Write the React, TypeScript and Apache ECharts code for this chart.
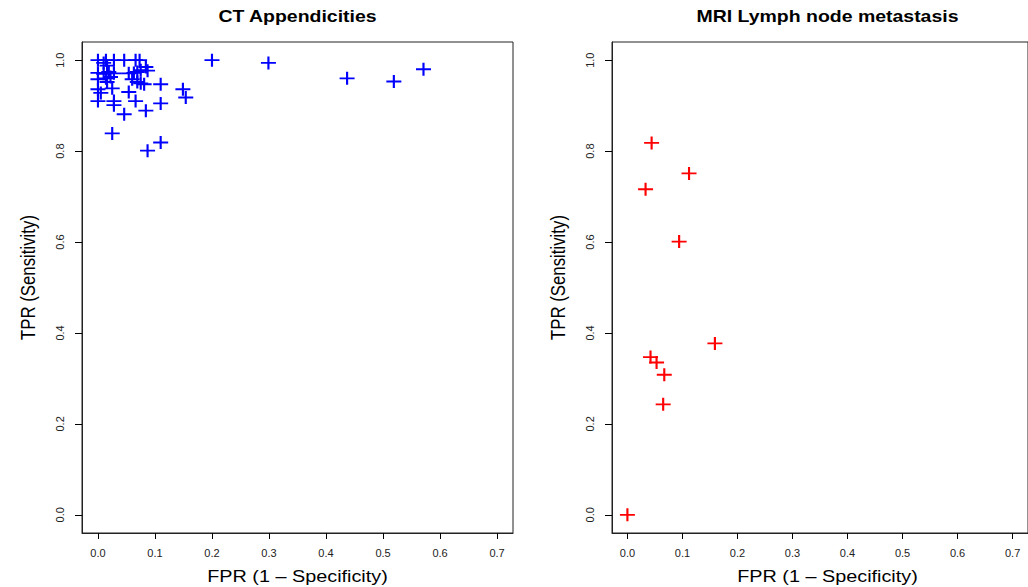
import React, { useEffect, useRef } from "react";
import * as echarts from "echarts";

const ctTitle = "CT Appendicities";
const mriTitle = "MRI Lymph node metastasis";
const xTitle = "FPR (1 \u2013 Specificity)";
const yTitle = "TPR (Sensitivity)";

const ctFpr = [0.0, 0.014, 0.028, 0.046, 0.066, 0.073, 0.2, 0.299, 0.437, 0.519, 0.571, 0.01, 0.016, 0.084, 0.087, 0.0, 0.01, 0.019, 0.028, 0.054, 0.063, 0.069, 0.075, 0.0, 0.014, 0.022, 0.016, 0.06, 0.069, 0.081, 0.11, 0.0, 0.005, 0.025, 0.054, 0.0, 0.028, 0.028, 0.066, 0.11, 0.084, 0.046, 0.025, 0.11, 0.087, 0.149, 0.154, 0.075];
const ctTpr = [1.0, 1.0, 1.0, 1.0, 1.0, 1.0, 1.0, 0.994, 0.96, 0.953, 0.98, 0.994, 0.988, 0.985, 0.977, 0.972, 0.97, 0.974, 0.971, 0.971, 0.972, 0.974, 0.978, 0.958, 0.96, 0.963, 0.952, 0.958, 0.952, 0.947, 0.947, 0.936, 0.928, 0.938, 0.93, 0.91, 0.91, 0.901, 0.91, 0.905, 0.889, 0.881, 0.839, 0.819, 0.801, 0.936, 0.918, 0.949];

const mriFpr = [0.044, 0.112, 0.033, 0.094, 0.159, 0.042, 0.053, 0.067, 0.065, 0.0];
const mriTpr = [0.818, 0.751, 0.716, 0.601, 0.377, 0.347, 0.335, 0.308, 0.243, 0.0];

const xTicks = [0, 0.1, 0.2, 0.3, 0.4, 0.5, 0.6, 0.7];
const yTicks = [0, 0.2, 0.4, 0.6, 0.8, 1.0];

const FONT = "'Liberation Sans', Arial, Helvetica, sans-serif";
const INK = "#222";
const PLUS = "path://M6,0h2v6h6v2h-6v6h-2v-6h-6v-2h6z";

const panels = [
  { left: 82, title: ctTitle, fpr: ctFpr, tpr: ctTpr, color: "#0000ff" },
  { left: 612, title: mriTitle, fpr: mriFpr, tpr: mriTpr, color: "#ff0000" },
];
const GRID_TOP = 42;
const GRID_W = 431;
const GRID_H = 491;

export default function App() {
  const ref = useRef<HTMLDivElement>(null);
  useEffect(() => {
    if (!ref.current) return;
    const chart = echarts.init(ref.current, null, { renderer: "svg" });
    const fmt = (v: number) => v.toFixed(1);
    const graphics: any[] = [];
    panels.forEach((p) => {
      const cx = p.left + GRID_W / 2;
      graphics.push({
        type: "text",
        x: cx,
        y: 17,
        scaleX: 1.18,
        silent: true,
        style: {
          text: p.title,
          x: 0,
          y: 0,
          align: "center",
          verticalAlign: "middle",
          fontFamily: FONT,
          fontWeight: "bold",
          fontSize: 16.5,
          fill: "#000",
        },
      });
      graphics.push({
        type: "text",
        x: cx,
        y: 576,
        scaleX: 1.18,
        silent: true,
        style: {
          text: xTitle,
          x: 0,
          y: 0,
          align: "center",
          verticalAlign: "middle",
          fontFamily: FONT,
          fontSize: 16.8,
          fill: "#000",
        },
      });
      graphics.push({
        type: "text",
        x: p.left - 54.5,
        y: 277.5,
        rotation: Math.PI / 2,
        scaleY: 1.18,
        silent: true,
        style: {
          text: yTitle,
          x: 0,
          y: 0,
          align: "center",
          verticalAlign: "middle",
          fontFamily: FONT,
          fontSize: 16.8,
          fill: "#000",
        },
      });
    });

    chart.setOption({
      animation: false,
      backgroundColor: "#fff",
      grid: panels.map((p) => ({
        left: p.left,
        top: GRID_TOP,
        width: GRID_W,
        height: GRID_H,
        show: true,
        borderColor: INK,
        borderWidth: 1,
        backgroundColor: "transparent",
      })),
      xAxis: panels.map((_, i) => ({
        type: "value",
        gridIndex: i,
        position: "bottom",
        min: -0.028,
        max: 0.728,
        splitLine: { show: false },
        axisLine: { show: true, onZero: false, lineStyle: { color: INK, width: 1 } },
        axisTick: {
          show: true,
          inside: false,
          length: 6,
          customValues: xTicks,
          lineStyle: { color: "#000", width: 1 },
        },
        axisLabel: {
          customValues: xTicks,
          formatter: fmt,
          margin: 14,
          fontFamily: FONT,
          fontSize: 11,
          color: INK,
        },
      })),
      yAxis: panels.map((_, i) => ({
        type: "value",
        gridIndex: i,
        position: "left",
        min: -0.04,
        max: 1.04,
        splitLine: { show: false },
        axisLine: { show: true, onZero: false, lineStyle: { color: INK, width: 1 } },
        axisTick: {
          show: true,
          inside: false,
          length: 7,
          customValues: yTicks,
          lineStyle: { color: "#000", width: 1 },
        },
        axisLabel: {
          customValues: yTicks,
          formatter: fmt,
          rotate: 90,
          margin: 17,
          fontFamily: FONT,
          fontSize: 11,
          color: INK,
        },
      })),
      series: panels.map((p, i) => ({
        type: "scatter",
        xAxisIndex: i,
        yAxisIndex: i,
        symbol: PLUS,
        symbolSize: [15, 13],
        itemStyle: { color: p.color, opacity: 1 },
        silent: true,
        data: p.fpr.map((f, j) => [f, p.tpr[j]]),
      })),
      graphic: graphics,
    });
    return () => chart.dispose();
  }, []);
  return (
    <div
      ref={ref}
      style={{ position: "absolute", left: 0, top: 0, width: 1028, height: 587 }}
    />
  );
}
